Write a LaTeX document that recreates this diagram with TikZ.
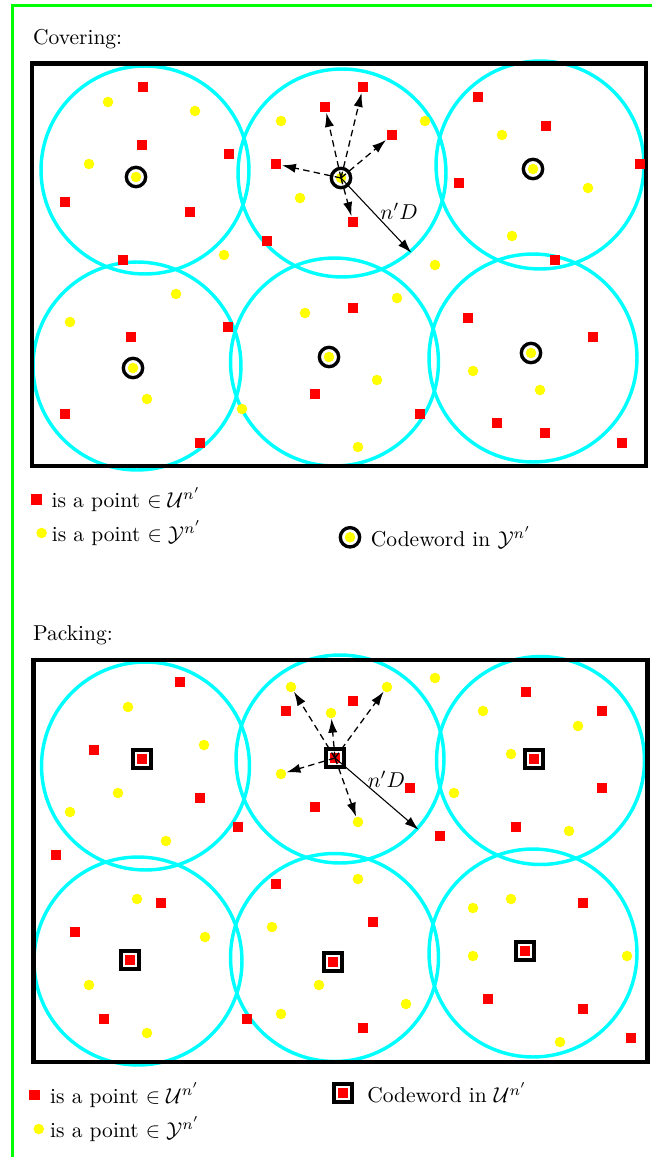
\documentclass[tikz,border=0pt]{standalone}
\usepackage{amsmath}
\usepackage{amssymb}
\usepackage{tikz}
\usetikzlibrary{positioning,arrows.meta}
\definecolor{ballcyan}{RGB}{0,255,255}
\definecolor{ptred}{RGB}{255,0,0}
\definecolor{ptyellow}{RGB}{255,255,0}
\definecolor{framegreen}{RGB}{0,255,0}
\tikzset{
  ball/.style={circle, draw=ballcyan, line width=1.6pt, minimum size=96.7pt, inner sep=0pt},
  region/.style={draw=black, line width=2.3pt},
  upt/.style={rectangle, fill=ptred, minimum size=5.1pt, inner sep=0pt},
  ypt/.style={circle, fill=ptyellow, minimum size=4.9pt, inner sep=0pt},
  ycode/.style={circle, draw=black, line width=1.55pt, minimum size=9pt, inner sep=0pt},
  ucode/.style={rectangle, draw=black, line width=1.9pt, minimum size=8.4pt, inner sep=0pt},
  probe/.style={line width=0.6pt, dash pattern=on 3pt off 2pt, -{Latex[length=6.5pt,width=4.3pt]}},
  reach/.style={line width=0.5pt, -{Latex[length=6.5pt,width=4.3pt]}}
}

\begin{document}
\begin{tikzpicture}[x=1pt,y=1pt,xscale=0.465,yscale=-0.465]
\useasboundingbox (0,0) rectangle (652,1157);
\draw [framegreen, line width=1.5pt] (12.5,1157) -- (12.5,5.5) -- (652,5.5);

\node [anchor=base west] (tcov) at (25.5,45) {Covering:};
\node [ball] (cc1) at (145,170) {};
\node [ball] (cc2) at (342,173) {};
\node [ball] (cc3) at (540,165) {};
\node [ball] (cc4) at (137,366) {};
\node [ball] (cc5) at (334.5,362) {};
\node [ball] (cc6) at (533,358) {};
\draw [region] (32,63.5) rectangle (646,466);

\node [upt] (cu1) at (143,87) {};
\node [upt] (cu2) at (142,145) {};
\node [upt] (cu3) at (229,154) {};
\node [upt] (cu4) at (65,202) {};
\node [upt] (cu5) at (190,212) {};
\node [upt] (cu6) at (123,260) {};
\node [upt] (cu7) at (325,107) {};
\node [upt] (cu8) at (363,87) {};
\node [upt] (cu9) at (392,135) {};
\node [upt] (cu10) at (276,164) {};
\node [upt] (cu11) at (353,222) {};
\node [upt] (cu12) at (267,241) {};
\node [upt] (cu13) at (478,97) {};
\node [upt] (cu14) at (546,126) {};
\node [upt] (cu15) at (459,183) {};
\node [upt] (cu16) at (640,164) {};
\node [upt] (cu17) at (555,260) {};
\node [upt] (cu18) at (131,337) {};
\node [upt] (cu19) at (228,327) {};
\node [upt] (cu20) at (65,414) {};
\node [upt] (cu21) at (200,443) {};
\node [upt] (cu22) at (353,308) {};
\node [upt] (cu23) at (315,394) {};
\node [upt] (cu24) at (420,414) {};
\node [upt] (cu25) at (468,318) {};
\node [upt] (cu26) at (593,337) {};
\node [upt] (cu27) at (497,423) {};
\node [upt] (cu28) at (545,433) {};
\node [upt] (cu29) at (622,443) {};

\node [ypt] (cy1) at (108,102) {};
\node [ypt] (cy2) at (195,111) {};
\node [ypt] (cy3) at (89,164) {};
\node [ypt] (cy4) at (224,255) {};
\node [ypt] (cy5) at (281,121) {};
\node [ypt] (cy6) at (425,121) {};
\node [ypt] (cy7) at (300,198) {};
\node [ypt] (cy8) at (435,265) {};
\node [ypt] (cy9) at (502,135) {};
\node [ypt] (cy10) at (588,188) {};
\node [ypt] (cy11) at (512,236) {};
\node [ypt] (cy12) at (176,294) {};
\node [ypt] (cy13) at (70,322) {};
\node [ypt] (cy14) at (147,399) {};
\node [ypt] (cy15) at (242,409) {};
\node [ypt] (cy16) at (305,313) {};
\node [ypt] (cy17) at (397,298) {};
\node [ypt] (cy18) at (377,380) {};
\node [ypt] (cy19) at (358,447) {};
\node [ypt] (cy20) at (473,371) {};
\node [ypt] (cy21) at (540,390) {};

\node [ypt] (cz1) at (136,177) {};
\node [ypt] (cz2) at (341,178) {};
\node [ypt] (cz3) at (533,169) {};
\node [ypt] (cz4) at (133,368) {};
\node [ypt] (cz5) at (329,357) {};
\node [ypt] (cz6) at (531,353) {};
\node [ycode] (cw1) at (136,177) {};
\node [ycode] (cw2) at (341,178) {};
\node [ycode] (cw3) at (533,169) {};
\node [ycode] (cw4) at (133,368) {};
\node [ycode] (cw5) at (329,357) {};
\node [ycode] (cw6) at (531,353) {};

\draw [probe] (cw2.center) -- (cu7);
\draw [probe] (cw2.center) -- (cu8);
\draw [probe] (cw2.center) -- (cu9);
\draw [probe] (cw2.center) -- (cu10);
\draw [probe] (cw2.center) -- (cu11);
\draw [reach] (cw2.center) -- node [pos=0.45, right] (cnd) {$n'D$} (cc2.-49);

\node [upt] (lcu) at (36.6,499.3) {};
\node [right=0.7pt of lcu] (lcut) {is a point $\in \mathcal{U}^{n'}$};
\node [ypt] (lcy) at (41.6,533) {};
\node [right=-1.4pt of lcy] (lcyt) {is a point $\in \mathcal{Y}^{n'}$};
\node [ypt] (lcz) at (350,537.3) {};
\node [ycode] (lcw) at (350,537.3) {};
\node [right=0.9pt of lcw] (lcwt) {Codeword in $\mathcal{Y}^{n'}$};

\node [anchor=base west] (tpack) at (25.5,640) {Packing:};
\node [ball] (pc1) at (145.5,766) {};
\node [ball] (pc2) at (340,759) {};
\node [ball] (pc3) at (540.5,760.5) {};
\node [ball] (pc4) at (138,961) {};
\node [ball] (pc5) at (334.5,957.5) {};
\node [ball] (pc6) at (533,953) {};
\draw [region] (33.5,660) rectangle (647.5,1062);

\node [upt] (pu1) at (180,682) {};
\node [upt] (pu2) at (286,711) {};
\node [upt] (pu3) at (353,701) {};
\node [upt] (pu4) at (94,750) {};
\node [upt] (pu5) at (200,798) {};
\node [upt] (pu6) at (315,807) {};
\node [upt] (pu7) at (410,788) {};
\node [upt] (pu8) at (238,827) {};
\node [upt] (pu9) at (440,836) {};
\node [upt] (pu10) at (56,855) {};
\node [upt] (pu11) at (526,692) {};
\node [upt] (pu12) at (602,711) {};
\node [upt] (pu13) at (602,788) {};
\node [upt] (pu14) at (516,827) {};
\node [upt] (pu15) at (276,884) {};
\node [upt] (pu16) at (161,903) {};
\node [upt] (pu17) at (75,932) {};
\node [upt] (pu18) at (373,922) {};
\node [upt] (pu19) at (104,1019) {};
\node [upt] (pu20) at (247,1019) {};
\node [upt] (pu21) at (363,1028) {};
\node [upt] (pu22) at (583,903) {};
\node [upt] (pu23) at (488,999) {};
\node [upt] (pu24) at (583,1009) {};
\node [upt] (pu25) at (631,1038) {};

\node [ypt] (py1) at (128,707) {};
\node [ypt] (py2) at (291,687) {};
\node [ypt] (py3) at (387,687) {};
\node [ypt] (py4) at (435,678) {};
\node [ypt] (py5) at (331,713) {};
\node [ypt] (py6) at (204,745) {};
\node [ypt] (py7) at (281,774) {};
\node [ypt] (py8) at (118,793) {};
\node [ypt] (py9) at (70,812) {};
\node [ypt] (py10) at (166,841) {};
\node [ypt] (py11) at (358,822) {};
\node [ypt] (py12) at (454,793) {};
\node [ypt] (py13) at (483,711) {};
\node [ypt] (py14) at (578,726) {};
\node [ypt] (py15) at (511,754) {};
\node [ypt] (py16) at (569,831) {};
\node [ypt] (py17) at (358,879) {};
\node [ypt] (py18) at (137,899) {};
\node [ypt] (py19) at (205,937) {};
\node [ypt] (py20) at (272,927) {};
\node [ypt] (py21) at (89,985) {};
\node [ypt] (py22) at (147,1033) {};
\node [ypt] (py23) at (319,985) {};
\node [ypt] (py24) at (281,1014) {};
\node [ypt] (py25) at (406,1004) {};
\node [ypt] (py26) at (473,908) {};
\node [ypt] (py27) at (511,899) {};
\node [ypt] (py28) at (473,956) {};
\node [ypt] (py29) at (627,956) {};
\node [ypt] (py30) at (560,1042) {};

\node [upt] (pz1) at (142,759) {};
\node [upt] (pz2) at (335,758) {};
\node [upt] (pz3) at (534,759) {};
\node [upt] (pz4) at (130,960) {};
\node [upt] (pz5) at (333,962) {};
\node [upt] (pz6) at (525,951) {};
\node [ucode] (pw1) at (142,759) {};
\node [ucode] (pw2) at (335,758) {};
\node [ucode] (pw3) at (534,759) {};
\node [ucode] (pw4) at (130,960) {};
\node [ucode] (pw5) at (333,962) {};
\node [ucode] (pw6) at (525,951) {};

\draw [probe] (pw2.center) -- (py2);
\draw [probe] (pw2.center) -- (py3);
\draw [probe] (pw2.center) -- (py5);
\draw [probe] (pw2.center) -- (py7);
\draw [probe] (pw2.center) -- (py11);
\draw [reach] (pw2.center) -- node [pos=0.3, right] (pnd) {$n'D$} (pc2.-42);

\node [upt] (lpu) at (34.7,1095) {};
\node [right=0.9pt of lpu] (lput) {is a point $\in \mathcal{U}^{n'}$};
\node [ypt] (lpy) at (38.8,1129) {};
\node [right=-0.9pt of lpy] (lpyt) {is a point $\in \mathcal{Y}^{n'}$};
\node [upt] (lpz) at (343,1093) {};
\node [ucode] (lpw) at (343,1093) {};
\node [right=2.6pt of lpw] (lpwt) {Codeword in $\mathcal{U}^{n'}$};
\end{tikzpicture}
\end{document}
